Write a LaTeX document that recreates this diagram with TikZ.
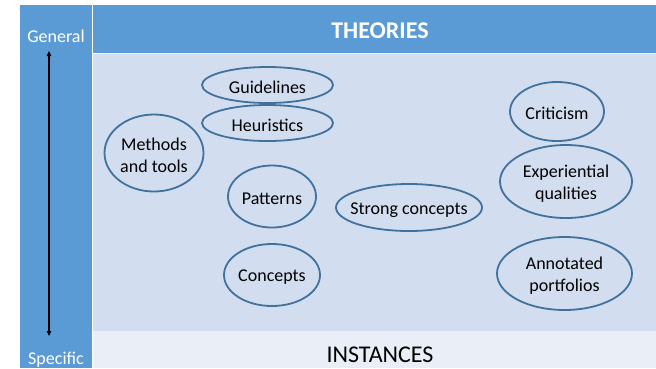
\documentclass[tikz,border=0pt]{standalone}
\usepackage{fontspec}
\setmainfont{Carlito}
\usetikzlibrary{shapes.geometric,arrows.meta}
\definecolor{barblue}{HTML}{5B9BD5}
\definecolor{lightarea}{HTML}{D2DEEF}
\definecolor{lowerarea}{HTML}{E9EEF7}
\definecolor{ringblue}{HTML}{41719C}
\begin{document}
\begin{tikzpicture}[x=1pt,y=-1pt,
  idea/.style={inner sep=0pt,font=\fontsize{18}{22}\selectfont,align=center,text=black},
  ring/.style={draw=ringblue,line width=1.8pt}]
\useasboundingbox[fill=white] (0,0) rectangle (656,368);
% panels
\fill[barblue] (20,5) rectangle (92,368);
\fill[barblue] (92,5) rectangle (656,53);
\fill[lightarea] (93,54) rectangle (656,331);
\fill[lowerarea] (93,331) rectangle (656,368);
\draw[white,line width=1pt] (92.5,5) -- (92.5,368);
\draw[white,line width=1pt] (92.5,53.5) -- (656,53.5);
% headings
\node[font=\bfseries\fontsize{24}{26}\selectfont,text=white] (theories) at (380,31) {THEORIES};
\node[font=\fontsize{24}{26}\selectfont,text=black,anchor=base,inner sep=0pt] (instances) at (380,362.5) {INSTANCES};
\node[font=\fontsize{18}{20}\selectfont,text=white,anchor=base] (general) at (56,42) {General};
\node[font=\fontsize{18}{20}\selectfont,text=white,anchor=base,inner sep=0pt] (specific) at (56,364) {Specific};
% axis arrow
\coordinate (atop) at (49,51);
\coordinate (abot) at (49,336);
\draw[black,line width=1.4pt,{Triangle[length=5pt,width=4.5pt]}-{Triangle[length=5pt,width=4.5pt]}] (atop) -- (abot);
% ideas
\node[idea] (guide) at (267.5,87.5) {Guidelines};
\draw[ring] (267.5,85) ellipse [x radius=65.5, y radius=18];
\node[idea] (heur) at (267.5,125.5) {Heuristics};
\draw[ring] (267.5,123) ellipse [x radius=65.5, y radius=18];
\node[idea] (methods) at (154,155) {Methods\\and tools};
\draw[ring] (154,153) ellipse [x radius=49.5, y radius=38.5];
\node[idea] (patterns) at (272,199) {Patterns};
\draw[ring] (272,196.5) ellipse [x radius=44, y radius=31];
\node[idea] (concepts) at (272,277.5) {Concepts};
\draw[ring] (272,275) ellipse [x radius=48, y radius=31];
\node[idea] (strong) at (409,210) {Strong concepts};
\draw[ring] (409,207.5) ellipse [x radius=73, y radius=23.5];
\node[idea] (crit) at (557,113.5) {Criticism};
\draw[ring] (557,111.5) ellipse [x radius=47, y radius=29.5];
\node[idea] (exp) at (566,183.5) {Experiential\\qualities};
\draw[ring] (566,181.5) ellipse [x radius=66, y radius=36.5];
\node[idea] (annot) at (564.5,275.5) {Annotated\\portfolios};
\draw[ring] (564.5,273.5) ellipse [x radius=67.5, y radius=36.5];
\end{tikzpicture}
\end{document}
